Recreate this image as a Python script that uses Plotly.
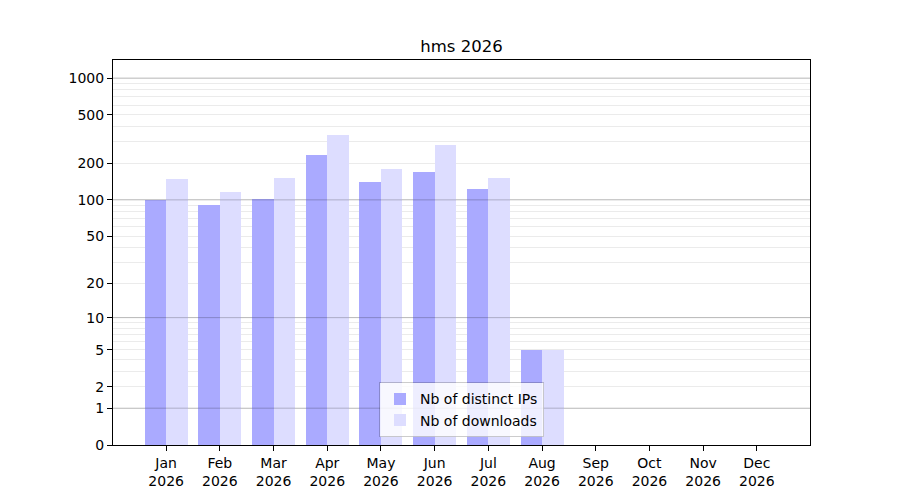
import math
import plotly.graph_objects as go

months = ["Jan", "Feb", "Mar", "Apr", "May", "Jun", "Jul", "Aug", "Sep", "Oct", "Nov", "Dec"]
year = "2026"
distinct_ips = [100, 91, 102, 236, 141, 170, 124, 5, 0, 0, 0, 0]
downloads = [149, 116, 151, 342, 180, 283, 151, 5, 0, 0, 0, 0]
ytick_values = [0, 1, 2, 5, 10, 20, 50, 100, 200, 500, 1000]
major_grid_values = [1, 10, 100, 1000]
minor_grid_values = [m * d for d in (1, 10, 100, 1000) for m in (3, 4, 6, 7, 8, 9)]


def tf(v):
    return math.log10(1 + v)


xpos = list(range(len(months)))
FONT = "DejaVu Sans"

fig = go.Figure()
fig.add_trace(go.Bar(
    x=xpos, y=[tf(v) for v in distinct_ips], name="Nb of distinct IPs",
    marker=dict(color="#aaaaff", line=dict(width=0)), width=0.4, offset=-0.4,
))
fig.add_trace(go.Bar(
    x=xpos, y=[tf(v) for v in downloads], name="Nb of downloads",
    marker=dict(color="#ddddff", line=dict(width=0)), width=0.4, offset=0.0,
))

shapes = [
    dict(type="line", xref="paper", x0=0, x1=1, yref="y", y0=tf(v), y1=tf(v),
         line=dict(color="rgba(0,0,0,0.22)", width=1), layer="above")
    for v in major_grid_values
]

fig.update_layout(
    width=900, height=500,
    margin=dict(l=105, r=98, t=52, b=63),
    paper_bgcolor="white", plot_bgcolor="white",
    barmode="overlay", bargap=0,
    font=dict(family=FONT, size=14, color="black"),
    title=dict(text="hms 2026", x=0.5, xref="paper", xanchor="center",
               y=1 - 38 / 500, yref="container", yanchor="middle",
               font=dict(family=FONT, size=16.5, color="black")),
    showlegend=True,
    legend=dict(x=0.5, xanchor="center", y=0.02, yanchor="bottom",
                bgcolor="rgba(255,255,255,0.8)", bordercolor="rgba(0,0,0,0.2)",
                borderwidth=1, font=dict(family=FONT, size=14), tracegroupgap=2),
    shapes=shapes,
    xaxis=dict(
        range=[-0.99, 11.99], tickmode="array", tickvals=xpos,
        ticktext=[f"{m}<br>{year}" for m in months],
        showgrid=False, zeroline=False,
        showline=True, linecolor="black", linewidth=1, mirror=True,
        ticks="outside", ticklen=5, tickcolor="black",
        tickfont=dict(family=FONT, size=14),
    ),
    yaxis=dict(
        range=[0, 3.148], tickmode="array",
        tickvals=[tf(v) for v in ytick_values],
        ticktext=[str(v) for v in ytick_values],
        showgrid=True, gridcolor="rgba(0,0,0,0.08)", gridwidth=1,
        minor=dict(tickmode="array", tickvals=[tf(v) for v in minor_grid_values],
                   showgrid=True, gridcolor="rgba(0,0,0,0.08)", gridwidth=1, ticks=""),
        zeroline=False, layer="above traces",
        showline=True, linecolor="black", linewidth=1, mirror=True,
        ticks="outside", ticklen=5, tickcolor="black",
        tickfont=dict(family=FONT, size=14),
    ),
)

fig.write_html("out.html")
